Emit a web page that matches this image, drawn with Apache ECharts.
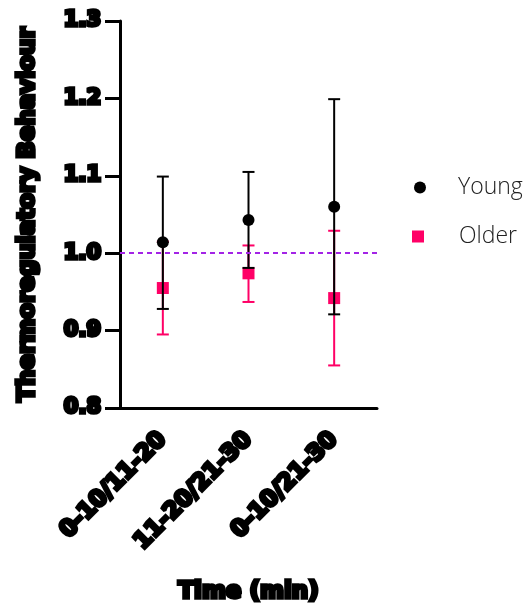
<!DOCTYPE html>
<html>
<head>
<meta charset="utf-8">
<script src="https://cdn.jsdelivr.net/npm/echarts@6/dist/echarts.min.js"></script>
<style>
  html, body { margin: 0; padding: 0; background: #fff; }
  #chart { width: 529px; height: 611px; }
</style>
</head>
<body>
<div id="chart"></div>
<script>
// Time windows compared
const categories = ['0-10/11-20', '11-20/21-30', '0-10/21-30'];

// Young group: mean and error bar ends
const youngMean = [1.014, 1.043, 1.060];
const youngLow  = [0.928, 0.981, 0.921];
const youngHigh = [1.099, 1.105, 1.199];

// Older group: mean and error bar ends
const olderMean = [0.955, 0.974, 0.942];
const olderLow  = [0.895, 0.937, 0.855];
const olderHigh = [1.015, 1.010, 1.029];

// Reference level
const referenceLevel = 1.0;

const heavyText = {
  color: '#000',
  fontFamily: 'DejaVu Sans',
  fontWeight: 'bold',
  textBorderColor: '#000',
  textBorderWidth: 3.5
};

function errorBarSeries(name, low, high, color, z) {
  return {
    name: name + ' error',
    type: 'custom',
    z: z,
    data: low.map((l, i) => [i, l, high[i]]),
    renderItem: function (params, api) {
      const x = api.value(0);
      const top = api.coord([x, api.value(2)]);
      const bottom = api.coord([x, api.value(1)]);
      const half = 6;
      const style = { stroke: color, lineWidth: 2 };
      return {
        type: 'group',
        children: [
          { type: 'line', shape: { x1: top[0], y1: top[1], x2: bottom[0], y2: bottom[1] }, style: style },
          { type: 'line', shape: { x1: top[0] - half, y1: top[1], x2: top[0] + half, y2: top[1] }, style: style },
          { type: 'line', shape: { x1: bottom[0] - half, y1: bottom[1], x2: bottom[0] + half, y2: bottom[1] }, style: style }
        ]
      };
    }
  };
}

const legendText = { fontFamily: 'Open Sans', fontWeight: 300, fontSize: 23, color: '#222' };

const chart = echarts.init(document.getElementById('chart'));
chart.setOption({
  animation: false,
  grid: { left: 120, right: 152, top: 21, bottom: 203, outerBoundsMode: 'none', containLabel: false },
  legend: [
    {
      data: [{ name: 'Young', icon: 'circle' }],
      left: 409, top: 171,
      itemWidth: 12, itemHeight: 12,
      textStyle: Object.assign({ padding: [0, 0, 0, 27] }, legendText)
    },
    {
      data: [{ name: 'Older', icon: 'rect' }],
      left: 407, top: 220,
      itemWidth: 12, itemHeight: 12,
      textStyle: Object.assign({ padding: [0, 0, 0, 30] }, legendText)
    }
  ],
  xAxis: {
    type: 'category',
    data: categories,
    name: 'Time (min)',
    nameLocation: 'middle',
    nameGap: 173,
    nameTextStyle: Object.assign({ fontSize: 23 }, heavyText),
    axisLine: { lineStyle: { color: '#000', width: 3 } },
    axisTick: { alignWithLabel: true, length: 16, lineStyle: { color: '#000', width: 3 } },
    axisLabel: Object.assign({ rotate: 45, fontSize: 23, margin: 28, interval: 0 }, heavyText),
    splitLine: { show: false }
  },
  yAxis: {
    type: 'value',
    min: 0.8, max: 1.3, interval: 0.1,
    name: 'Thermoregulatory Behaviour',
    nameLocation: 'middle',
    nameGap: 80,
    nameRotate: 90,
    nameTextStyle: Object.assign({ fontSize: 23 }, heavyText),
    axisLine: { show: true, lineStyle: { color: '#000', width: 3 } },
    axisTick: { show: true, length: 15, lineStyle: { color: '#000', width: 3 } },
    axisLabel: Object.assign({ fontSize: 21, margin: 19, formatter: v => v.toFixed(1) }, heavyText),
    splitLine: { show: false }
  },
  series: [
    errorBarSeries('Older', olderLow, olderHigh, '#ff0066', 2),
    {
      name: 'Older',
      type: 'scatter',
      z: 3,
      symbol: 'rect',
      symbolSize: 12,
      itemStyle: { color: '#ff0066', opacity: 1 },
      data: olderMean.map((v, i) => [i, v]),
      markLine: {
        silent: true,
        symbol: 'none',
        label: { show: false },
        lineStyle: { color: '#a323e6', type: [5, 4], width: 2 },
        data: [{ yAxis: referenceLevel }]
      }
    },
    errorBarSeries('Young', youngLow, youngHigh, '#000', 4),
    {
      name: 'Young',
      type: 'scatter',
      z: 5,
      symbol: 'circle',
      symbolSize: 12,
      itemStyle: { color: '#000', opacity: 1 },
      data: youngMean.map((v, i) => [i, v])
    }
  ]
});
</script>
</body>
</html>
